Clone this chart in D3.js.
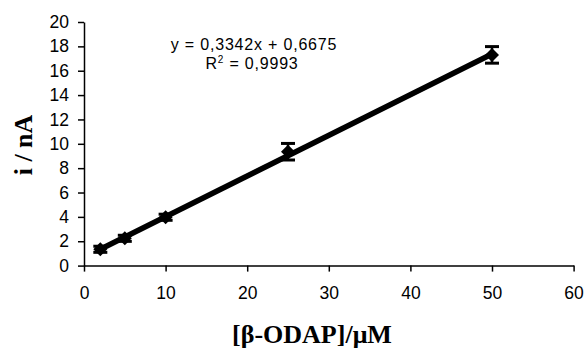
<!DOCTYPE html>
<html lang="en">
<head>
<meta charset="UTF-8">
<title></title>
<script src="https://d3js.org/d3.v7.min.js"></script>
<style>
  body { margin: 0; background: #fff; }
  svg { display: block; }
</style>
</head>
<body>
<script type="text/javascript">

var w = 584;
var h = 354;
var margin = {top: 22, right: 10, bottom: 88, left: 84};

// calibration data
var conc = [2, 5, 10, 25, 50];
var current = [1.34, 2.24, 3.97, 9.35, 17.3];
var errs = [0.25, 0.25, 0.25, 0.68, 0.68];

var xTicks = [0, 10, 20, 30, 40, 50, 60];
var yTicks = [0, 2, 4, 6, 8, 10, 12, 14, 16, 18, 20];

// linear trendline
var fitSlope = 0.3342;
var fitIntercept = 0.6675;
var fitRange = [2, 50];
var eqText = "y = 0,3342x + 0,6675";
var r2Text = "0,9993";

var x = d3.scaleLinear().domain([0, 60]).range([margin.left, 573.6]);
var y = d3.scaleLinear().domain([0, 20]).range([265.6, margin.top]);

var svg = d3.select("body")
    .append("svg")
    .attr("width", w)
    .attr("height", h);

var xAxis = svg.append("g")
    .attr("transform", "translate(0," + y(0) + ")")
    .call(d3.axisBottom(x).tickValues(xTicks).tickSize(6).tickSizeOuter(0).tickPadding(15));

var yAxis = svg.append("g")
    .attr("transform", "translate(" + x(0) + ",0)")
    .call(d3.axisLeft(y).tickValues(yTicks).tickSize(6).tickSizeOuter(0).tickPadding(9));

svg.selectAll(".domain, .tick line")
    .attr("stroke", "#000")
    .attr("stroke-width", 1.5);

svg.selectAll(".tick text")
    .attr("fill", "#000")
    .attr("font-family", "Arial, 'Liberation Sans', sans-serif")
    .attr("font-size", "17.5px");

// trendline
svg.append("line")
    .attr("x1", x(fitRange[0]))
    .attr("y1", y(fitSlope * fitRange[0] + fitIntercept))
    .attr("x2", x(fitRange[1]))
    .attr("y2", y(fitSlope * fitRange[1] + fitIntercept))
    .attr("stroke", "#000")
    .attr("stroke-width", 5.5);

var pts = conc.map(function(d, i) { return {c: d, v: current[i], e: errs[i]}; });

var bars = svg.selectAll(".err")
    .data(pts)
    .enter()
    .append("g")
    .attr("class", "err");

bars.append("line")
    .attr("x1", function(d) { return x(d.c); })
    .attr("x2", function(d) { return x(d.c); })
    .attr("y1", function(d) { return y(d.v - d.e); })
    .attr("y2", function(d) { return y(d.v + d.e); })
    .attr("stroke", "#000")
    .attr("stroke-width", 2.5);

[-1, 1].forEach(function(s) {
    bars.append("line")
        .attr("x1", function(d) { return x(d.c) - 7; })
        .attr("x2", function(d) { return x(d.c) + 7; })
        .attr("y1", function(d) { return y(d.v + s * d.e); })
        .attr("y2", function(d) { return y(d.v + s * d.e); })
        .attr("stroke", "#000")
        .attr("stroke-width", 3);
});

svg.selectAll(".pt")
    .data(pts)
    .enter()
    .append("path")
    .attr("class", "pt")
    .attr("d", "M0,-7L7,0L0,7L-7,0Z")
    .attr("transform", function(d) { return "translate(" + x(d.c) + "," + y(d.v) + ")"; })
    .attr("fill", "#000");

// equation
svg.append("text")
    .attr("x", 254)
    .attr("y", 50)
    .attr("text-anchor", "middle")
    .attr("font-family", "Arial, 'Liberation Sans', sans-serif")
    .attr("font-size", "16px")
    .attr("letter-spacing", "0.8px")
    .text(eqText);

var r2 = svg.append("text")
    .attr("x", 252)
    .attr("y", 69)
    .attr("text-anchor", "middle")
    .attr("font-family", "Arial, 'Liberation Sans', sans-serif")
    .attr("font-size", "16px")
    .attr("letter-spacing", "0.8px");
r2.append("tspan").text("R");
r2.append("tspan").attr("font-size", "10px").attr("dy", -6).text("2");
r2.append("tspan").attr("dy", 6).text(" = " + r2Text);

// axis titles
svg.append("text")
    .attr("transform", "translate(32,145) rotate(-90)")
    .attr("text-anchor", "middle")
    .attr("font-family", "'Times New Roman', 'Liberation Serif', serif")
    .attr("font-weight", "bold")
    .attr("font-size", "26px")
    .text("i / nA");

svg.append("text")
    .attr("x", 312)
    .attr("y", 343)
    .attr("text-anchor", "middle")
    .attr("font-family", "'Times New Roman', 'Liberation Serif', serif")
    .attr("font-weight", "bold")
    .attr("font-size", "26px")
    .text("[β-ODAP]/μM");

</script>
</body>
</html>
